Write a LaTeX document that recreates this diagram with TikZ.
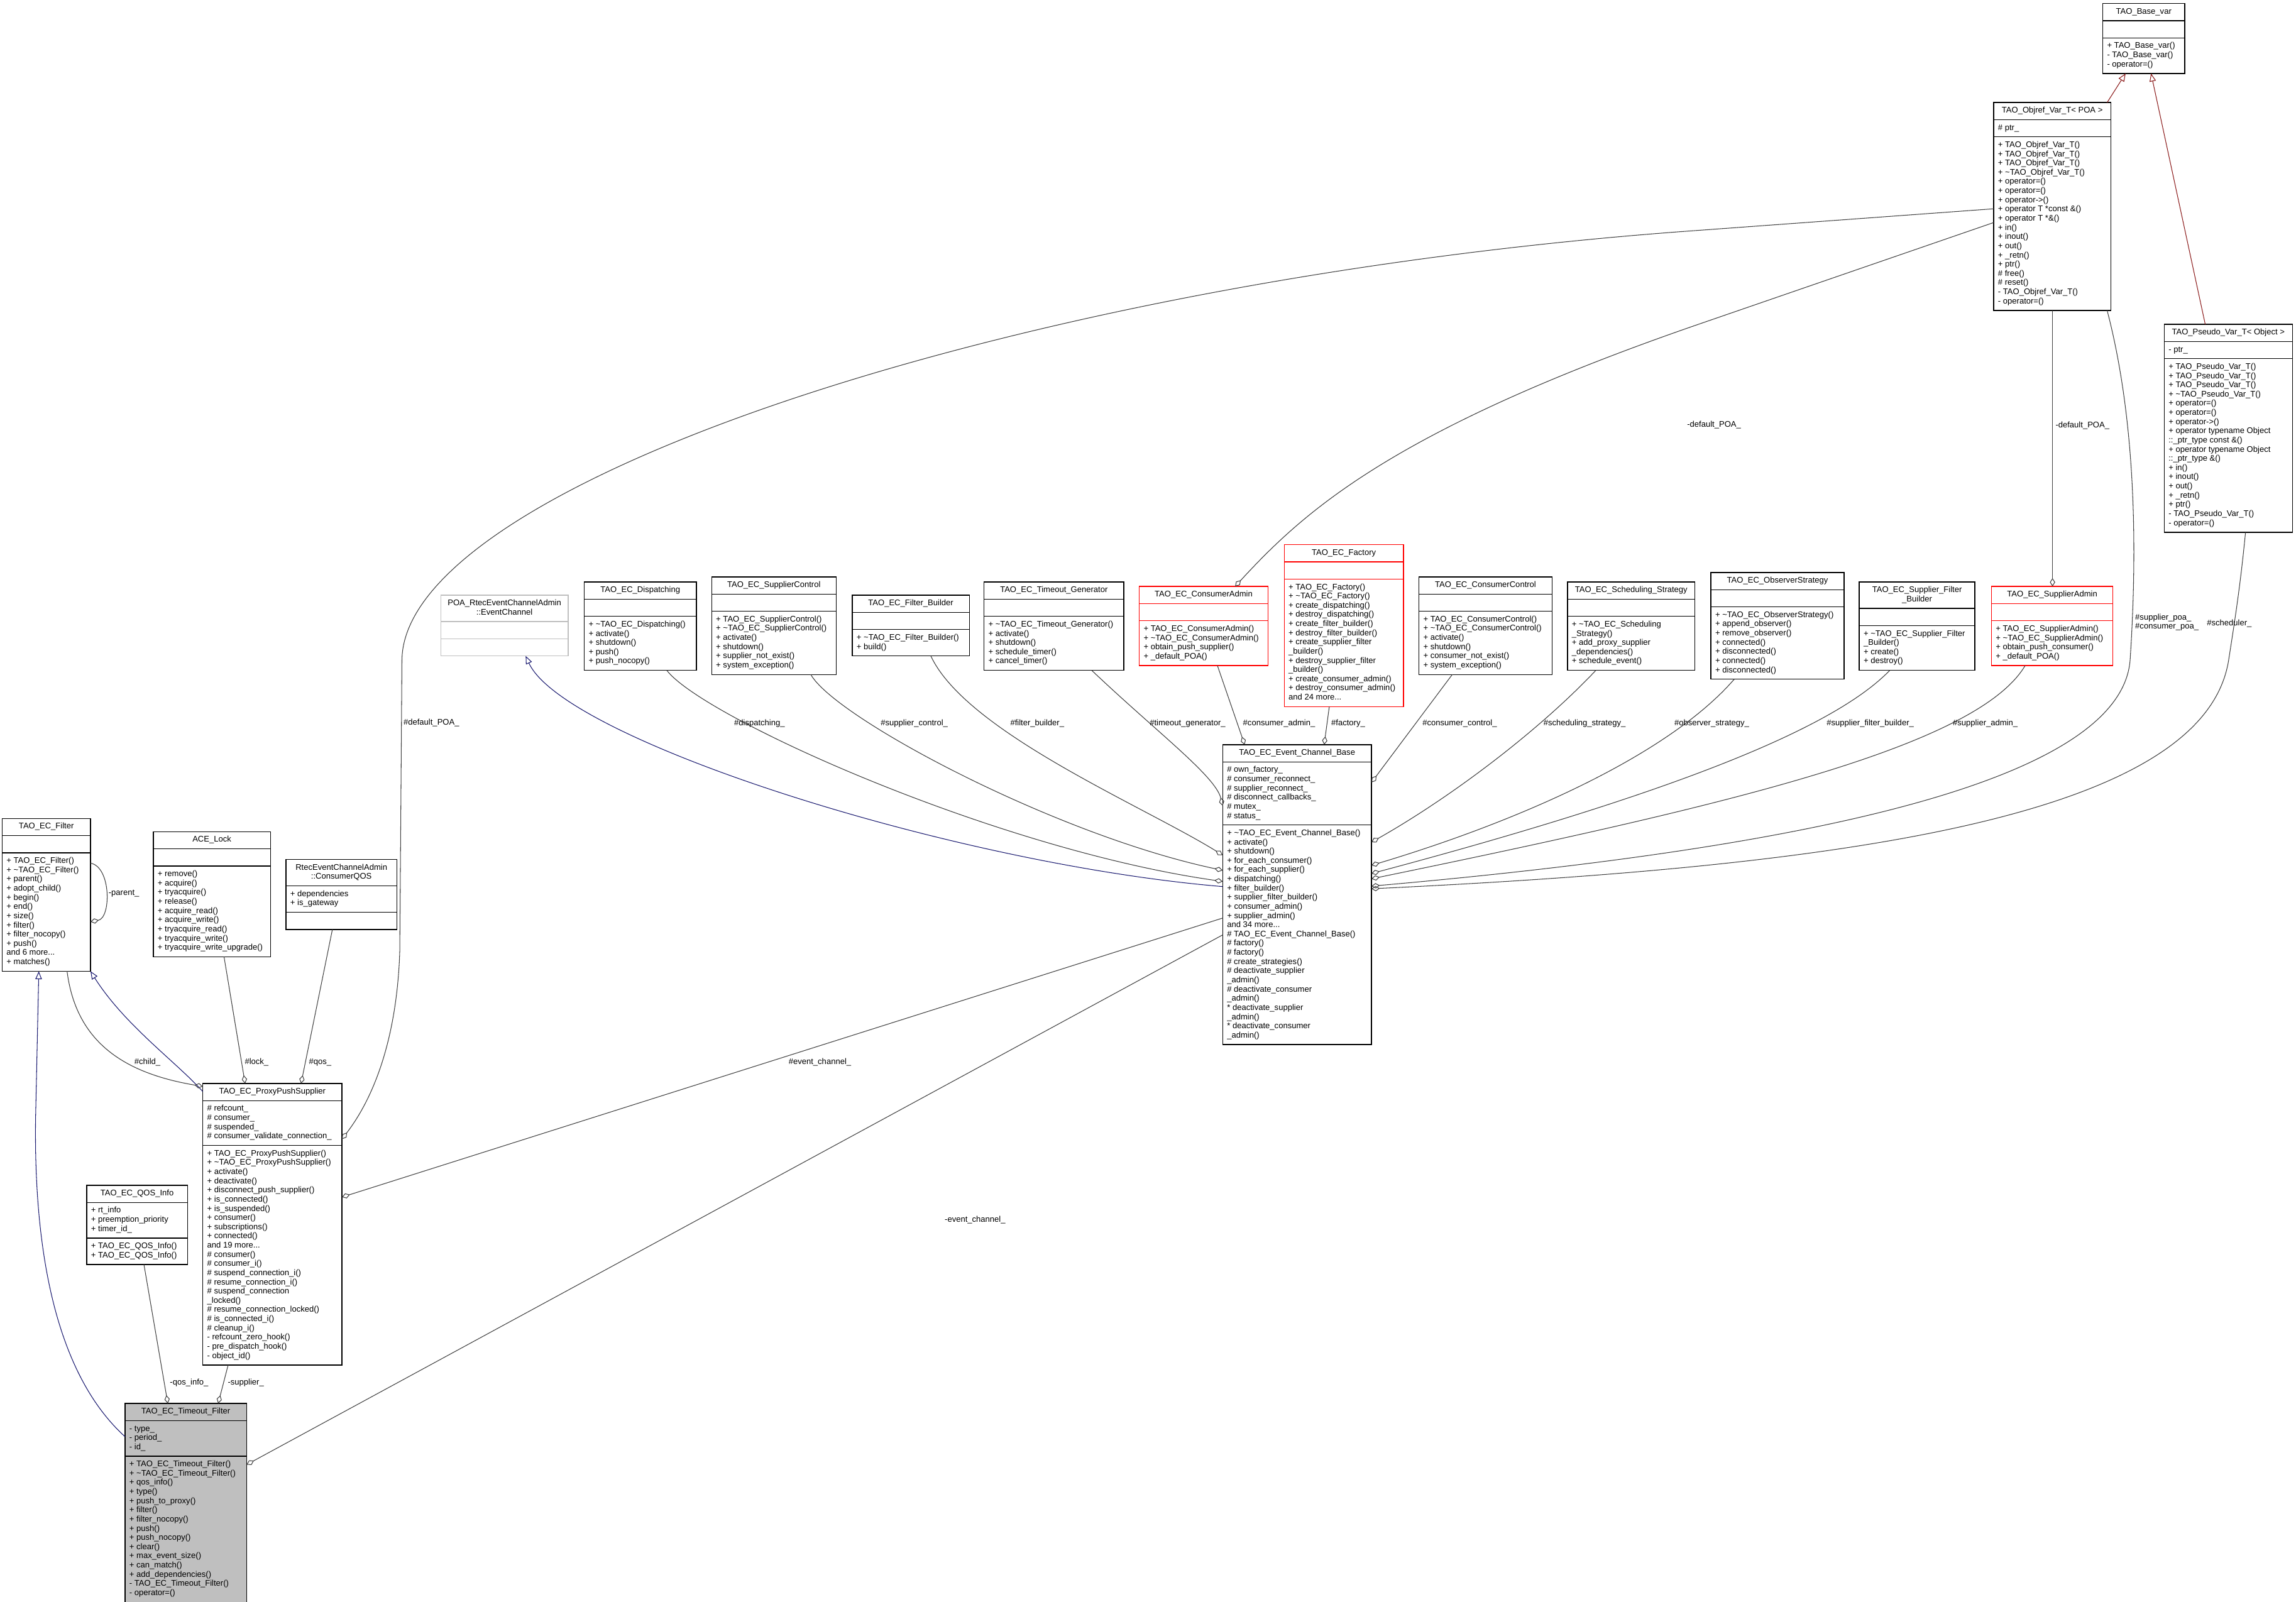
\documentclass[tikz,border=0pt]{standalone}
\usepackage{fontspec}
\setmainfont{Liberation Sans}
\usetikzlibrary{arrows.meta,shapes.multipart}
\definecolor{edgeGrey}{HTML}{404040}
\definecolor{inhBlue}{HTML}{191970}
\definecolor{inhRed}{HTML}{8B1A1A}
\definecolor{boxRed}{HTML}{FF0000}
\definecolor{boxGrey}{HTML}{BFBFBF}

\begin{document}
\begin{tikzpicture}[x=1pt,y=-1pt,
      cls/.style={rectangle split,rectangle split parts=3,draw,line width=0.55pt,
                  inner xsep=3pt,inner ysep=2.46pt,outer sep=0pt,anchor=north west,
                  align=left,rectangle split part align={center,left,left},
                  font=\fontsize{5.6}{6.28}\selectfont},
      clsred/.style={cls,draw=boxRed},
      clsgrey/.style={cls,draw=boxGrey},
      uses/.style={-{Diamond[open,length=5.7pt,width=3.6pt]},edgeGrey,line width=0.45pt},
      isa/.style={-{Triangle[open,length=5.4pt,width=4.4pt]},inhBlue,line width=0.45pt},
      isared/.style={isa,inhRed},
      lbl/.style={font=\fontsize{5.6}{6.28}\selectfont,inner sep=0pt,anchor=west,align=left}]
    \path[use as bounding box,fill=white] (0,0) rectangle (1568,1094);

    \node[cls,minimum width=56] (basevar) at (1436,2.4) {\strut TAO\_Base\_var\strut
      \nodepart{two}\strut
      \nodepart{three}\strut + TAO\_Base\_var()\\- TAO\_Base\_var()\\- operator=()\strut};
    \node[cls,minimum width=80] (objref) at (1361.5,70) {\strut TAO\_Objref\_Var\_T< POA >\strut
      \nodepart{two}\strut \# ptr\_\strut
      \nodepart{three}\strut + TAO\_Objref\_Var\_T()\\+ TAO\_Objref\_Var\_T()\\+ TAO\_Objref\_Var\_T()\\
      + \textasciitilde TAO\_Objref\_Var\_T()\\+ operator=()\\+ operator=()\\+ operator->()\\
      + operator T *const \&()\\+ operator T *\&()\\+ in()\\+ inout()\\+ out()\\+ \_retn()\\+ ptr()\\
      \# free()\\\# reset()\\- TAO\_Objref\_Var\_T()\\- operator=()\strut};
    \node[cls,minimum width=87.5] (pseudo) at (1478,221.5) {\strut TAO\_Pseudo\_Var\_T< Object >\strut
      \nodepart{two}\strut - ptr\_\strut
      \nodepart{three}\strut + TAO\_Pseudo\_Var\_T()\\+ TAO\_Pseudo\_Var\_T()\\+ TAO\_Pseudo\_Var\_T()\\
      + \textasciitilde TAO\_Pseudo\_Var\_T()\\+ operator=()\\+ operator=()\\+ operator->()\\
      + operator typename Object\\::\_ptr\_type const \&()\\+ operator typename Object\\::\_ptr\_type \&()\\
      + in()\\+ inout()\\+ out()\\+ \_retn()\\+ ptr()\\- TAO\_Pseudo\_Var\_T()\\- operator=()\strut};

    \node[clsgrey,minimum width=87] (poa) at (301,406.5)
      {\begin{tabular}{@{}c@{}}POA\_RtecEventChannelAdmin\\::EventChannel\end{tabular}
      \nodepart{two}\strut
      \nodepart{three}\strut};
    \node[cls,minimum width=76.6] (disp) at (399,397.5) {\strut TAO\_EC\_Dispatching\strut
      \nodepart{two}\strut
      \nodepart{three}\strut + \textasciitilde TAO\_EC\_Dispatching()\\+ activate()\\+ shutdown()\\+ push()\\+ push\_nocopy()\strut};
    \node[cls,minimum width=85] (supctl) at (486,394) {\strut TAO\_EC\_SupplierControl\strut
      \nodepart{two}\strut
      \nodepart{three}\strut + TAO\_EC\_SupplierControl()\\+ \textasciitilde TAO\_EC\_SupplierControl()\\+ activate()\\
      + shutdown()\\+ supplier\_not\_exist()\\+ system\_exception()\strut};
    \node[cls,minimum width=80] (fbuild) at (582,406.5) {\strut TAO\_EC\_Filter\_Builder\strut
      \nodepart{two}\strut
      \nodepart{three}\strut + \textasciitilde TAO\_EC\_Filter\_Builder()\\+ build()\strut};
    \node[cls,minimum width=95.5] (tgen) at (672,397.5) {\strut TAO\_EC\_Timeout\_Generator\strut
      \nodepart{two}\strut
      \nodepart{three}\strut + \textasciitilde TAO\_EC\_Timeout\_Generator()\\+ activate()\\+ shutdown()\\
      + schedule\_timer()\\+ cancel\_timer()\strut};
    \node[clsred,minimum width=88] (cadmin) at (778,400.5) {\strut TAO\_EC\_ConsumerAdmin\strut
      \nodepart{two}\strut
      \nodepart{three}\strut + TAO\_EC\_ConsumerAdmin()\\+ \textasciitilde TAO\_EC\_ConsumerAdmin()\\
      + obtain\_push\_supplier()\\+ \_default\_POA()\strut};
    \node[clsred,minimum width=81.5] (factory) at (877,372) {\strut TAO\_EC\_Factory\strut
      \nodepart{two}\strut
      \nodepart{three}\strut + TAO\_EC\_Factory()\\+ \textasciitilde TAO\_EC\_Factory()\\+ create\_dispatching()\\
      + destroy\_dispatching()\\+ create\_filter\_builder()\\+ destroy\_filter\_builder()\\
      + create\_supplier\_filter\\\_builder()\\+ destroy\_supplier\_filter\\\_builder()\\
      + create\_consumer\_admin()\\+ destroy\_consumer\_admin()\\and 24 more...\strut};
    \node[cls,minimum width=91] (cctl) at (969,394) {\strut TAO\_EC\_ConsumerControl\strut
      \nodepart{two}\strut
      \nodepart{three}\strut + TAO\_EC\_ConsumerControl()\\+ \textasciitilde TAO\_EC\_ConsumerControl()\\+ activate()\\
      + shutdown()\\+ consumer\_not\_exist()\\+ system\_exception()\strut};
    \node[cls,minimum width=87] (sched) at (1070.5,397.5) {\strut TAO\_EC\_Scheduling\_Strategy\strut
      \nodepart{two}\strut
      \nodepart{three}\strut + \textasciitilde TAO\_EC\_Scheduling\\\_Strategy()\\+ add\_proxy\_supplier\\
      \_dependencies()\\+ schedule\_event()\strut};
    \node[cls,minimum width=91] (observ) at (1168.4,391) {\strut TAO\_EC\_ObserverStrategy\strut
      \nodepart{two}\strut
      \nodepart{three}\strut + \textasciitilde TAO\_EC\_ObserverStrategy()\\+ append\_observer()\\+ remove\_observer()\\
      + connected()\\+ disconnected()\\+ connected()\\+ disconnected()\strut};
    \node[cls,minimum width=79] (sfbuild) at (1269.7,397.5)
      {\begin{tabular}{@{}c@{}}TAO\_EC\_Supplier\_Filter\\\_Builder\end{tabular}
      \nodepart{two}\strut
      \nodepart{three}\strut + \textasciitilde TAO\_EC\_Supplier\_Filter\\\_Builder()\\+ create()\\+ destroy()\strut};
    \node[clsred,minimum width=83] (sadmin) at (1360,400.5) {\strut TAO\_EC\_SupplierAdmin\strut
      \nodepart{two}\strut
      \nodepart{three}\strut + TAO\_EC\_SupplierAdmin()\\+ \textasciitilde TAO\_EC\_SupplierAdmin()\\
      + obtain\_push\_consumer()\\+ \_default\_POA()\strut};

    \node[cls,minimum width=101.6] (ecb) at (835,508.6) {\strut TAO\_EC\_Event\_Channel\_Base\strut
      \nodepart{two}\strut \# own\_factory\_\\\# consumer\_reconnect\_\\\# supplier\_reconnect\_\\
      \# disconnect\_callbacks\_\\\# mutex\_\\\# status\_\strut
      \nodepart{three}\strut + \textasciitilde TAO\_EC\_Event\_Channel\_Base()\\+ activate()\\+ shutdown()\\
      + for\_each\_consumer()\\+ for\_each\_supplier()\\+ dispatching()\\+ filter\_builder()\\
      + supplier\_filter\_builder()\\+ consumer\_admin()\\+ supplier\_admin()\\and 34 more...\\
      \# TAO\_EC\_Event\_Channel\_Base()\\\# factory()\\\# factory()\\\# create\_strategies()\\
      \# deactivate\_supplier\\\_admin()\\\# deactivate\_consumer\\\_admin()\\
      {}* deactivate\_supplier\\\_admin()\\{}* deactivate\_consumer\\\_admin()\strut};

    \node[cls,minimum width=60.3] (filter) at (1.5,559) {\strut TAO\_EC\_Filter\strut
      \nodepart{two}\strut
      \nodepart{three}\strut + TAO\_EC\_Filter()\\+ \textasciitilde TAO\_EC\_Filter()\\+ parent()\\+ adopt\_child()\\
      + begin()\\+ end()\\+ size()\\+ filter()\\+ filter\_nocopy()\\+ push()\\and 6 more...\\+ matches()\strut};
    \node[cls,minimum width=80] (acelock) at (104.7,568) {\strut ACE\_Lock\strut
      \nodepart{two}\strut
      \nodepart{three}\strut + remove()\\+ acquire()\\+ tryacquire()\\+ release()\\+ acquire\_read()\\
      + acquire\_write()\\+ tryacquire\_read()\\+ tryacquire\_write()\\+ tryacquire\_write\_upgrade()\strut};
    \node[cls,minimum width=75.7] (cqos) at (195.3,587)
      {\begin{tabular}{@{}c@{}}RtecEventChannelAdmin\\::ConsumerQOS\end{tabular}
      \nodepart{two}\strut + dependencies\\+ is\_gateway\strut
      \nodepart{three}\strut};
    \node[cls,minimum width=95] (pps) at (138.5,740) {\strut TAO\_EC\_ProxyPushSupplier\strut
      \nodepart{two}\strut \# refcount\_\\\# consumer\_\\\# suspended\_\\\# consumer\_validate\_connection\_\strut
      \nodepart{three}\strut + TAO\_EC\_ProxyPushSupplier()\\+ \textasciitilde TAO\_EC\_ProxyPushSupplier()\\
      + activate()\\+ deactivate()\\+ disconnect\_push\_supplier()\\+ is\_connected()\\+ is\_suspended()\\
      + consumer()\\+ subscriptions()\\+ connected()\\and 19 more...\\\# consumer()\\\# consumer\_i()\\
      \# suspend\_connection\_i()\\\# resume\_connection\_i()\\\# suspend\_connection\\\_locked()\\
      \# resume\_connection\_locked()\\\# is\_connected\_i()\\\# cleanup\_i()\\- refcount\_zero\_hook()\\
      - pre\_dispatch\_hook()\\- object\_id()\strut};
    \node[cls,minimum width=68.8] (qosinfo) at (59.2,809.5) {\strut TAO\_EC\_QOS\_Info\strut
      \nodepart{two}\strut + rt\_info\\+ preemption\_priority\\+ timer\_id\_\strut
      \nodepart{three}\strut + TAO\_EC\_QOS\_Info()\\+ TAO\_EC\_QOS\_Info()\strut};
    \node[cls,fill=boxGrey,minimum width=83] (tfilter) at (85.4,958.5) {\strut TAO\_EC\_Timeout\_Filter\strut
      \nodepart{two}\strut - type\_\\- period\_\\- id\_\strut
      \nodepart{three}\strut + TAO\_EC\_Timeout\_Filter()\\+ \textasciitilde TAO\_EC\_Timeout\_Filter()\\+ qos\_info()\\
      + type()\\+ push\_to\_proxy()\\+ filter()\\+ filter\_nocopy()\\+ push()\\+ push\_nocopy()\\+ clear()\\
      + max\_event\_size()\\+ can\_match()\\+ add\_dependencies()\\- TAO\_EC\_Timeout\_Filter()\\- operator=()\strut};

    \draw[isared] (objref.north -| 1439,0) -- (basevar.south -| 1451.6,0);
    \draw[isared] (pseudo.north -| 1506,0) -- (basevar.south -| 1469,0);
    \draw[isa] (ecb.west |- 0,605.5) .. controls (650,590) and (385,505) .. (poa.south -| 359,0);
    \draw[isa] (pps.west |- 0,745.5) .. controls (120,725) and (85,700) .. (filter.south east);
    \draw[isa] (tfilter.west |- 0,981.2) .. controls (40,940) and (23,860) .. (24.3,764) -- (filter.south -| 26.5,0);

    \draw[uses] (disp.south -| 455.4,0) .. controls (480,490) and (680,580) .. (ecb.west |- 0,602);
    \draw[uses] (supctl.south -| 553.7,0) .. controls (570,490) and (720,570) .. (ecb.west |- 0,594.4);
    \draw[uses] (fbuild.south -| 635.7,0) .. controls (660,500) and (780,550) .. (ecb.west |- 0,584);
    \draw[uses] (tgen.south -| 745.6,0) .. controls (790,500) and (830,530) .. (ecb.west |- 0,550.3);
    \draw[uses] (cadmin.south -| 831.4,0) -- (ecb.north -| 850,0);
    \draw[uses] (factory.south -| 907.8,0) -- (ecb.north -| 904.3,0);
    \draw[uses] (cctl.south -| 991.8,0) -- (ecb.east |- 0,534.4);
    \draw[uses] (sched.south -| 1089.8,0) .. controls (1050,500) and (990,545) .. (ecb.east |- 0,575.2);
    \draw[uses] (observ.south -| 1184.3,0) .. controls (1140,515) and (1040,560) .. (ecb.east |- 0,591);
    \draw[uses] (sfbuild.south -| 1290.5,0) .. controls (1250,500) and (1130,545) .. (ecb.east |- 0,596.6);
    \draw[uses] (sadmin.south -| 1383,0) .. controls (1350,510) and (1180,550) .. (ecb.east |- 0,600.2);
    \draw[uses] (objref.south -| 1439,0) .. controls (1462,300) and (1458,400) .. (1454.7,450.7)
                .. controls (1448,540) and (1200,582) .. (ecb.east |- 0,605.2);
    \draw[uses] (pseudo.south -| 1533.5,0) .. controls (1530,400) and (1526,425) .. (1522,450.7)
                .. controls (1505,560) and (1250,592) .. (ecb.east |- 0,607);
    \draw[uses] (objref.south -| 1401.7,0) -- (sadmin.north -| 1401.7,0);
    \draw[uses] (objref.west |- 0,152) -- (1159,221.8) .. controls (950,294) and (890,350) .. (cadmin.north -| 843.5,0);
    \draw[uses] (objref.west |- 0,142.6) -- (1159,157.4) .. controls (700,190) and (276,330) .. (274.5,450.7)
                -- (273,650) .. controls (271,710) and (255,750) .. (pps.east |- 0,778);
    \draw[uses] (acelock.south -| 153,0) -- (pps.north -| 167.4,0);
    \draw[uses] (cqos.south -| 227,0) -- (pps.north -| 205.6,0);
    \draw[uses] (filter.south -| 45.8,0) .. controls (52,712) and (85,733) .. (pps.west |- 0,742);
    \draw[uses] (filter.east |- 0,589.5) .. controls (76,592) and (76,627) .. (filter.east |- 0,629.5);
    \draw[uses] (ecb.west |- 0,627) -- (pps.east |- 0,817.6);
    \draw[uses] (ecb.west |- 0,638.5) -- (tfilter.east |- 0,1000.3);
    \draw[uses] (qosinfo.south -| 98.3,0) -- (tfilter.north -| 114.6,0);
    \draw[uses] (pps.south -| 155.8,0) -- (tfilter.north -| 149,0);

    \node[lbl] (ldisp) at (501.2,494) {\#dispatching\_};
    \node[lbl] (lsupctl) at (601.3,494) {\#supplier\_control\_};
    \node[lbl] (lfbuild) at (689.8,494) {\#filter\_builder\_};
    \node[lbl] (ltgen) at (785,494) {\#timeout\_generator\_};
    \node[lbl] (lcadmin) at (848.7,494) {\#consumer\_admin\_};
    \node[lbl] (lfactory) at (909,494) {\#factory\_};
    \node[lbl] (lcctl) at (971.3,494) {\#consumer\_control\_};
    \node[lbl] (lsched) at (1053.9,494) {\#scheduling\_strategy\_};
    \node[lbl] (lobserv) at (1143.3,494) {\#observer\_strategy\_};
    \node[lbl] (lsfbuild) at (1247.3,494) {\#supplier\_filter\_builder\_};
    \node[lbl] (lsadmin) at (1333.5,494) {\#supplier\_admin\_};
    \node[lbl] (lpoapps) at (275.4,493.6) {\#default\_POA\_};
    \node[lbl] (lpoaca) at (1152,290) {-default\_POA\_};
    \node[lbl] (lpoasa) at (1403.6,290.8) {-default\_POA\_};
    \node[lbl] (lspoa) at (1458,425) {\#supplier\_poa\_\\\#consumer\_poa\_};
    \node[lbl] (lschd) at (1507,426) {\#scheduler\_};
    \node[lbl] (llock) at (167,725.4) {\#lock\_};
    \node[lbl] (lqos) at (210.8,725.4) {\#qos\_};
    \node[lbl] (lchild) at (91.6,725.4) {\#child\_};
    \node[lbl] (lparent) at (74,610) {-parent\_};
    \node[lbl] (lecpps) at (538.4,725.3) {\#event\_channel\_};
    \node[lbl] (lectf) at (645,833) {-event\_channel\_};
    \node[lbl] (lqinfo) at (115.9,944.2) {-qos\_info\_};
    \node[lbl] (lsupp) at (155.4,944.2) {-supplier\_};
\end{tikzpicture}
\end{document}
